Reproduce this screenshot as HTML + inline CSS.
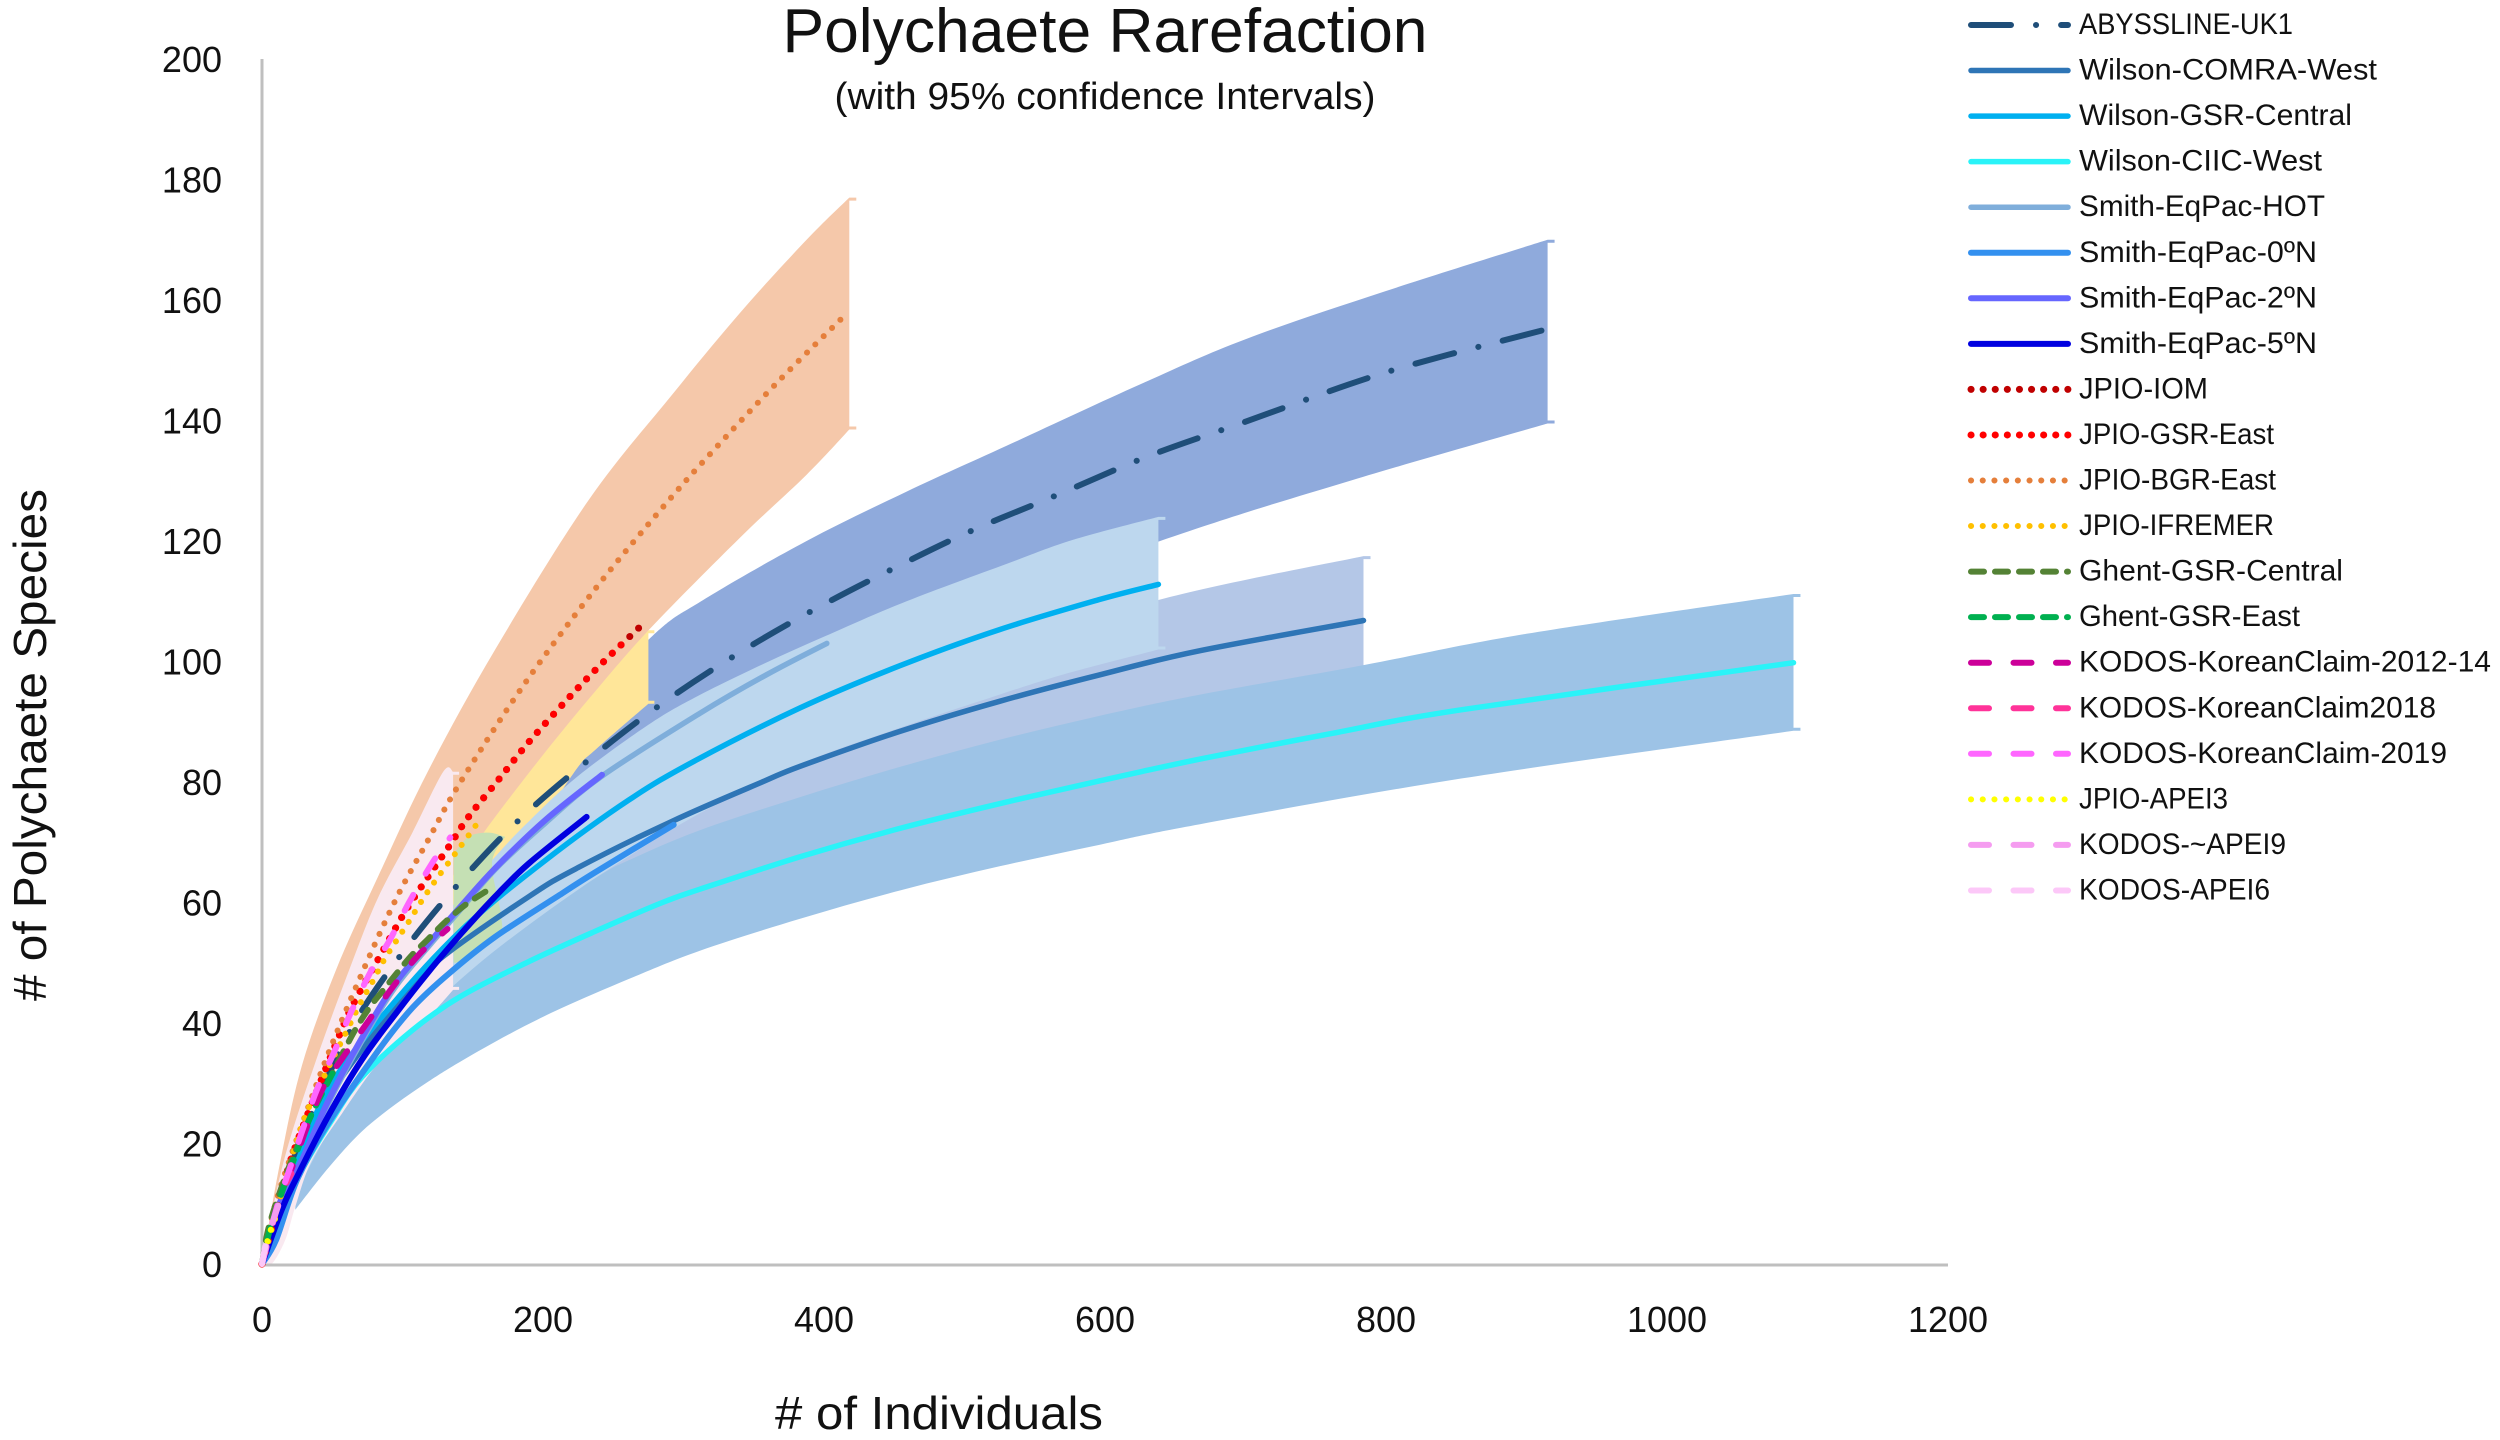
<!DOCTYPE html>
<html lang="en">
<head>
<meta charset="utf-8">
<title>Polychaete Rarefaction</title>
<style>
html,body{margin:0;padding:0;background:#fff;width:2500px;height:1440px;overflow:hidden}
svg{display:block}
text{font-family:"Liberation Sans",sans-serif;fill:#111}
</style>
</head>
<body>
<svg id="chart" xmlns="http://www.w3.org/2000/svg" width="2500" height="1440" viewBox="0 0 2500 1440">
  <text x="1105" y="52" font-size="62" text-anchor="middle" textLength="645" lengthAdjust="spacingAndGlyphs">Polychaete Rarefaction</text>
  <text x="1105" y="109" font-size="38" text-anchor="middle" textLength="541" lengthAdjust="spacingAndGlyphs">(with 95% confidence Intervals)</text>
  <text x="939" y="1429" font-size="46" text-anchor="middle" textLength="328" lengthAdjust="spacingAndGlyphs"># of Individuals</text>
  <text transform="translate(46,745) rotate(-90)" font-size="46" text-anchor="middle" textLength="512" lengthAdjust="spacingAndGlyphs"># of Polychaete Species</text>
  <g id="bands"></g>
  <g id="axes"></g>
  <g id="lines"></g>
  <g id="legend"></g>
</svg>
<script>
// Axis tick labels
const xTicks = [0, 200, 400, 600, 800, 1000, 1200];
const yTicks = [0, 20, 40, 60, 80, 100, 120, 140, 160, 180, 200];

// Mean rarefaction curves: individuals (X) and species (Y)
const abysslineX = [0, 15, 30, 63, 98.5, 138.8, 182, 230.6, 281, 334.5, 389, 445.7, 504, 562.5, 630, 700, 800, 912];
const abysslineY = [0, 12, 22, 38.8, 51.2, 62.8, 73.5, 83.3, 92.4, 100.7, 108.1, 115, 121.6, 127.3, 134, 139.8, 148, 155];
const comraX = [0, 6, 27, 51, 98, 126, 190, 225, 292, 356, 383, 454, 525, 596.4, 667.6, 784];
const comraY = [0, 3, 17, 29, 43.5, 50.5, 61, 65.8, 73.5, 80, 82.6, 88.4, 93.4, 97.8, 101.8, 106.8];
const gsrCentralX = [0, 6, 27, 51, 98, 146, 201.7, 261, 308, 383, 454, 525, 596.4, 638];
const gsrCentralY = [0, 3.5, 18, 30.5, 44.5, 56.3, 67, 77, 83.5, 92.3, 99.3, 105.3, 110.3, 112.8];
const ciicX = [0, 10, 27, 50, 71, 107, 142, 190, 237, 285, 311.7, 383, 454, 525, 596.4, 667.6, 760, 854, 1090];
const ciicY = [0, 6, 15, 24, 31, 38.8, 44.5, 50.2, 55.2, 60, 62.2, 67.6, 72.3, 76.4, 80.2, 83.8, 88, 92, 99.8];
const hotX = [0, 14, 28.5, 47, 71, 95, 118.6, 142, 166, 201.7, 242, 311.7, 359, 402];
const hotY = [0, 10.5, 17, 26.5, 37, 46, 52.7, 59, 65.5, 73.2, 81, 91.4, 97.8, 103];
const eq0X = [0, 10, 25, 47, 83, 107, 133, 166, 213.5, 237, 293];
const eq0Y = [0, 4, 14, 23.3, 35.5, 42.5, 48.2, 54.3, 61.5, 65, 72.9];
const eq2X = [0, 14, 28.5, 47, 71, 95, 118.6, 142, 166, 201.7, 242];
const eq2Y = [0, 11, 17.3, 27, 37.5, 46.6, 53.2, 59.5, 65.7, 73.7, 81.2];
const eq5X = [0, 14, 23.7, 47, 71, 95, 118.6, 142, 166, 190, 231];
const eq5Y = [0, 9, 13.9, 24.5, 33.9, 41.5, 48.5, 54.9, 61, 66.5, 74.2];
const iomX = [0, 15, 27, 55.8, 66.4, 83, 99.6, 113.4, 133, 147, 168.4, 189.8, 218, 242, 272.8];
const iomY = [0, 13, 21.5, 38.4, 43.8, 50.7, 57.6, 62.6, 69.3, 74.2, 80.4, 86.6, 93.9, 99.7, 106.6];
const gsrEastX = [0, 15, 27, 55.8, 66.4, 83, 99.6, 113.4, 133, 147, 168.4, 189.8, 218, 242, 259];
const gsrEastY = [0, 13, 21.5, 38.4, 43.8, 50.7, 57.6, 62.6, 69.3, 74.2, 80.4, 86.6, 93.9, 99.7, 103.5];
const bgrX = [0, 8, 20, 44, 68.8, 95, 118.6, 140, 186, 237, 286, 320, 366.7, 415];
const bgrY = [0, 8.6, 17.5, 33, 47, 60.4, 70.5, 79.5, 96, 112, 125.8, 134.7, 146.3, 157.5];
const ifremerX = [0, 27, 44, 59.3, 70, 78.8, 87, 96, 105, 114, 123.6, 134, 143.5, 154];
const ifremerY = [0, 22, 31, 38.2, 43.3, 46.9, 50.5, 53.8, 57, 60.4, 63.7, 67, 70, 73.4];
const ghentCentralX = [0, 4.7, 14, 22.5, 35.6, 50, 65, 76, 85.4, 95, 106.8, 118.6, 130.5, 144.7, 159];
const ghentCentralY = [0, 6, 12.8, 18, 25, 31.6, 38.3, 42.4, 45.2, 48, 51.3, 54, 56.8, 59.6, 61.8];
const ghentEastX = [0, 6, 15.4, 27, 35.6, 50];
const ghentEastY = [0, 6, 12.7, 20, 25, 31.6];
const kodos2012X = [0, 10.7, 19, 41.5, 58, 74.7, 92.5, 111.5, 132];
const kodos2012Y = [0, 9.5, 14.5, 28.3, 34.4, 40, 45.8, 51.3, 55.6];
const kodos2018X = [0, 13, 21];
const kodos2018Y = [0, 11, 15];
const kodos2019X = [0, 10.7, 20, 28.5, 39, 51, 63, 78, 91, 104.4, 121, 134];
const kodos2019Y = [0, 9.5, 16, 22, 28.9, 35, 41.6, 48.8, 53.8, 59.9, 66.5, 70.8];
const apei3X = [0, 5, 7.6, 10.7];
const apei3Y = [0, 4.8, 6.4, 8.4];
const apei9X = [0, 5, 12];
const apei9Y = [0, 5, 10];
const apei6X = [0, 1.5, 5];
const apei6Y = [0, 2, 6];

// Confidence band limits
const bandDarkUpperX = [137, 200, 275, 314, 387.6, 458.8, 530, 625, 700, 800, 915];
const bandDarkUpperY = [68, 85, 103.6, 110.2, 120, 128.2, 135.8, 146, 153.5, 161.5, 170];
const bandDarkLowerX = [137, 200, 275, 400, 638, 776, 915];
const bandDarkLowerY = [60, 72, 86, 100, 119.9, 130.1, 139.5];
const bandComraUpperX = [137, 250, 383, 525, 638, 784];
const bandComraUpperY = [58, 75, 90, 101, 110.2, 117.5];
const bandComraLowerX = [137, 250, 383, 525, 784];
const bandComraLowerY = [46, 62, 75, 85, 98.5];
const bandYellowUpperX = [100, 157, 216, 275];
const bandYellowUpperY = [62, 76, 94, 105.2];
const bandYellowLowerX = [100, 162, 200, 225, 237, 275];
const bandYellowLowerY = [42, 62, 74, 82.5, 85.3, 93];
const bandOrangeUpperX = [0, 13, 28.5, 53, 83, 118.6, 166, 232.5, 292.7, 340, 387.6, 418];
const bandOrangeUpperY = [0, 17, 33, 49, 64.5, 82, 102, 126.8, 144.5, 157.8, 170, 177];
const bandOrangeLowerX = [0, 50, 100, 136, 166, 201.7, 237, 276.4, 340, 387.6, 418];
const bandOrangeLowerY = [0, 30, 53, 64.5, 74.2, 85, 95, 105.5, 120.5, 131, 138.5];
const bandCiicUpperX = [23.7, 71, 135, 166, 237, 261, 311.7, 383, 454, 525, 596.4, 667.6, 784, 900, 1090];
const bandCiicUpperY = [12, 32, 47.7, 53.5, 64, 67, 72, 77.5, 82.5, 87, 91, 94.5, 99.4, 104.6, 111.2];
const bandCiicLowerX = [23.7, 47.4, 71, 95, 118.6, 142, 178, 213.5, 261, 311.7, 383, 454, 525, 596.4, 667.6, 854, 1090];
const bandCiicLowerY = [9, 16, 22, 26.5, 30.3, 33.7, 38.4, 42.5, 47.3, 52, 57.3, 62, 66, 69.6, 73, 80.6, 88.5];
const bandGsrUpperX = [20, 60, 100, 134, 166, 190, 225, 275, 308, 356, 406.6, 458.8, 530, 577.4, 638];
const bandGsrUpperY = [14, 34, 48, 59, 67.6, 73.5, 81, 89.5, 94, 99.5, 104.8, 110, 116.2, 120.2, 124];
const bandGsrLowerX = [20, 60, 100, 150, 200, 250, 311.7, 383, 454, 525, 572.7, 638];
const bandGsrLowerY = [10, 27, 38, 49, 58, 66, 74.8, 83, 89, 94.5, 98, 102];
const bandGreenUpperX = [136.4, 147, 161, 173];
const bandGreenUpperY = [68, 70.9, 71.6, 70.9];
const bandGreenLowerX = [136.4, 142, 168, 170, 163.7, 173];
const bandGreenLowerY = [50, 50.5, 54.6, 58, 66.5, 70.9];
const bandPinkUpperX = [0, 15.4, 38, 64, 83, 106.8, 129, 136];
const bandPinkUpperY = [0, 17, 33.5, 50, 61, 71.5, 81.7, 81.7];
const bandPinkLowerX = [0, 7, 16.6, 23.7, 35.6, 57, 80.7, 99.6, 118.6, 136];
const bandPinkLowerY = [0, 0, 4, 9.5, 17.3, 25, 32.8, 37.2, 41, 45.5];

// Axis functions
const plotLeft = 262, plotRight = 1948, plotTop = 59, plotBottom = 1264;
const xMax = 1200, yMax = 200;
function xScale(v) { return plotLeft + v / xMax * (plotRight - plotLeft); }
function yScale(v) { return plotBottom - v / yMax * (plotBottom - plotTop); }

const NS = 'http://www.w3.org/2000/svg';
function svgEl(tag, attrs, parent) {
  const e = document.createElementNS(NS, tag);
  for (const k in attrs) e.setAttribute(k, attrs[k]);
  parent.appendChild(e);
  return e;
}
function toPts(xs, ys) {
  return xs.map(function (x, i) { return [xScale(x), yScale(ys[i])]; });
}
function smoothTail(p) {
  let d = '';
  for (let i = 0; i < p.length - 1; i++) {
    const a = p[Math.max(i - 1, 0)], b = p[i], c = p[i + 1], e = p[Math.min(i + 2, p.length - 1)];
    const c1x = b[0] + (c[0] - a[0]) / 6, c1y = b[1] + (c[1] - a[1]) / 6;
    const c2x = c[0] - (e[0] - b[0]) / 6, c2y = c[1] - (e[1] - b[1]) / 6;
    d += 'C' + c1x.toFixed(1) + ' ' + c1y.toFixed(1) + ' ' + c2x.toFixed(1) + ' ' + c2y.toFixed(1) + ' ' + c[0].toFixed(1) + ' ' + c[1].toFixed(1);
  }
  return d;
}
function linePath(xs, ys) {
  const p = toPts(xs, ys);
  return 'M' + p[0][0].toFixed(1) + ' ' + p[0][1].toFixed(1) + smoothTail(p);
}
function bandPath(ux, uy, lx, ly, cap) {
  const u = toPts(ux, uy), l = toPts(lx, ly).reverse();
  const a = u[u.length - 1], b = l[0];
  let d = 'M' + u[0][0].toFixed(1) + ' ' + u[0][1].toFixed(1) + smoothTail(u);
  if (cap) {
    d += 'L' + (a[0] + cap) + ' ' + a[1].toFixed(1) + 'L' + (a[0] + cap) + ' ' + (a[1] + 3).toFixed(1) + 'L' + a[0].toFixed(1) + ' ' + (a[1] + 3).toFixed(1);
    d += 'L' + b[0].toFixed(1) + ' ' + (b[1] - 3).toFixed(1) + 'L' + (b[0] + cap) + ' ' + (b[1] - 3).toFixed(1) + 'L' + (b[0] + cap) + ' ' + b[1].toFixed(1);
  }
  d += 'L' + b[0].toFixed(1) + ' ' + b[1].toFixed(1) + smoothTail(l) + 'Z';
  return d;
}

// Bands, bottom layer first
const bands = [
  { name: 'band-abyssline', fill: '#8faadc', cap: 7, ux: bandDarkUpperX, uy: bandDarkUpperY, lx: bandDarkLowerX, ly: bandDarkLowerY },
  { name: 'band-wilson-comra', fill: '#b4c7e7', cap: 7, ux: bandComraUpperX, uy: bandComraUpperY, lx: bandComraLowerX, ly: bandComraLowerY },
  { name: 'band-jpio-gsr-east', fill: '#ffe699', cap: 6, ux: bandYellowUpperX, uy: bandYellowUpperY, lx: bandYellowLowerX, ly: bandYellowLowerY },
  { name: 'band-jpio-bgr-east', fill: '#f5c8aa', cap: 7, ux: bandOrangeUpperX, uy: bandOrangeUpperY, lx: bandOrangeLowerX, ly: bandOrangeLowerY },
  { name: 'band-wilson-ciic', fill: '#9dc3e6', cap: 7, ux: bandCiicUpperX, uy: bandCiicUpperY, lx: bandCiicLowerX, ly: bandCiicLowerY },
  { name: 'band-wilson-gsr', fill: '#bdd7ee', cap: 7, ux: bandGsrUpperX, uy: bandGsrUpperY, lx: bandGsrLowerX, ly: bandGsrLowerY },
  { name: 'band-ghent-gsr', fill: '#c5e0b4', cap: 0, ux: bandGreenUpperX, uy: bandGreenUpperY, lx: bandGreenLowerX, ly: bandGreenLowerY },
  { name: 'band-kodos-apei6', fill: '#f9e9f0', cap: 6, ux: bandPinkUpperX, uy: bandPinkUpperY, lx: bandPinkLowerX, ly: bandPinkLowerY }
];
const bandLayer = document.getElementById('bands');
bands.forEach(function (b) {
  const el = svgEl('path', { d: bandPath(b.ux, b.uy, b.lx, b.ly, b.cap), fill: b.fill }, bandLayer);
  
  
});

// Axes
const axisLayer = document.getElementById('axes');
const yAxisLine = svgEl('line', { x1: plotLeft, x2: plotLeft, y1: plotTop, y2: plotBottom + 1, stroke: '#bfbfbf', 'stroke-width': 3 }, axisLayer);


const xAxisLine = svgEl('line', { x1: plotLeft - 1, x2: plotRight, y1: plotBottom + 1, y2: plotBottom + 1, stroke: '#bfbfbf', 'stroke-width': 3 }, axisLayer);


yTicks.forEach(function (v) {
  const t = svgEl('text', { x: 222, y: yScale(v) + 13, 'font-size': 36, 'text-anchor': 'end' }, axisLayer);
  t.textContent = v;
  
  
});
xTicks.forEach(function (v) {
  const t = svgEl('text', { x: xScale(v), y: 1332, 'font-size': 36, 'text-anchor': 'middle' }, axisLayer);
  t.textContent = v;
  
  
});

// Series styling and legend
const dashDot = '40 25 0.1 25', dotRed = '0.1 12', dotOrange = '0.1 11.6', dash4 = '13 11', dash3 = '18 24.5';
const seriesList = [
  { label: 'ABYSSLINE-UK1', w: 214, color: '#1f4e79', dash: dashDot, sw: 6, xs: abysslineX, ys: abysslineY },
  { label: 'Wilson-COMRA-West', w: 298, color: '#2e75b6', dash: '', sw: 5.5, xs: comraX, ys: comraY },
  { label: 'Wilson-GSR-Central', w: 273, color: '#00b0f0', dash: '', sw: 5.5, xs: gsrCentralX, ys: gsrCentralY },
  { label: 'Wilson-CIIC-West', w: 243, color: '#2af3f8', dash: '', sw: 5.5, xs: ciicX, ys: ciicY },
  { label: 'Smith-EqPac-HOT', w: 246, color: '#7faedb', dash: '', sw: 5.5, xs: hotX, ys: hotY },
  { label: 'Smith-EqPac-0ºN', w: 238, color: '#3390ef', dash: '', sw: 6, xs: eq0X, ys: eq0Y },
  { label: 'Smith-EqPac-2ºN', w: 238, color: '#6666ff', dash: '', sw: 6, xs: eq2X, ys: eq2Y },
  { label: 'Smith-EqPac-5ºN', w: 238, color: '#0000e0', dash: '', sw: 6, xs: eq5X, ys: eq5Y },
  { label: 'JPIO-IOM', w: 129, color: '#c00000', dash: dotRed, sw: 7, xs: iomX, ys: iomY },
  { label: 'JPIO-GSR-East', w: 195, color: '#ff0000', dash: dotRed, sw: 7, xs: gsrEastX, ys: gsrEastY },
  { label: 'JPIO-BGR-East', w: 197, color: '#e57f3b', dash: dotOrange, sw: 6, xs: bgrX, ys: bgrY },
  { label: 'JPIO-IFREMER', w: 195, color: '#ffc000', dash: dotOrange, sw: 6, xs: ifremerX, ys: ifremerY },
  { label: 'Ghent-GSR-Central', w: 264, color: '#548235', dash: dash4, sw: 6, xs: ghentCentralX, ys: ghentCentralY },
  { label: 'Ghent-GSR-East', w: 221, color: '#00b050', dash: dash4, sw: 6, xs: ghentEastX, ys: ghentEastY },
  { label: 'KODOS-KoreanClaim-2012-14', w: 412, color: '#cc0099', dash: dash3, sw: 6, xs: kodos2012X, ys: kodos2012Y },
  { label: 'KODOS-KoreanClaim2018', w: 357, color: '#ff3399', dash: dash3, sw: 6, xs: kodos2018X, ys: kodos2018Y },
  { label: 'KODOS-KoreanClaim-2019', w: 368, color: '#ff66ff', dash: dash3, sw: 6, xs: kodos2019X, ys: kodos2019Y },
  { label: 'JPIO-APEI3', w: 149, color: '#ffff00', dash: dotOrange, sw: 6, xs: apei3X, ys: apei3Y },
  { label: 'KODOS-~APEI9', w: 207, color: '#f59cf0', dash: dash3, sw: 6, xs: apei9X, ys: apei9Y },
  { label: 'KODOS-APEI6', w: 191, color: '#fcc8f8', dash: dash3, sw: 6, xs: apei6X, ys: apei6Y }
];
const lineLayer = document.getElementById('lines');
const legendLayer = document.getElementById('legend');
seriesList.forEach(function (s, i) {
  const slug = s.label.toLowerCase().replace(/[^a-z0-9]+/g, '-');
  const line = svgEl('path', { d: linePath(s.xs, s.ys), fill: 'none', stroke: s.color, 'stroke-width': s.sw, 'stroke-linecap': 'round', 'stroke-linejoin': 'round' }, lineLayer);
  if (s.dash) line.setAttribute('stroke-dasharray', s.dash);
  if (s.dash === dashDot) {
    // Phase the dash pattern so a dot falls where the reference shows one (x about 281)
    const k = s.xs.indexOf(281);
    const probe = svgEl('path', { d: linePath(s.xs.slice(0, k + 1), s.ys.slice(0, k + 1)), fill: 'none' }, lineLayer);
    line.setAttribute('stroke-dashoffset', (65 - probe.getTotalLength()).toFixed(1));
    lineLayer.removeChild(probe);
  }
  
  

  const rowY = 25 + i * 45.55;
  const sample = svgEl('line', { x1: 1971, x2: 2068, y1: rowY, y2: rowY, stroke: s.color, 'stroke-width': s.sw, 'stroke-linecap': 'round' }, legendLayer);
  if (s.dash) sample.setAttribute('stroke-dasharray', s.dash);
  
  
  const label = svgEl('text', { x: 2079, y: rowY + 9, 'font-size': 30, textLength: s.w, lengthAdjust: 'spacingAndGlyphs' }, legendLayer);
  label.textContent = s.label;
  
  
});
</script>
</body>
</html>
